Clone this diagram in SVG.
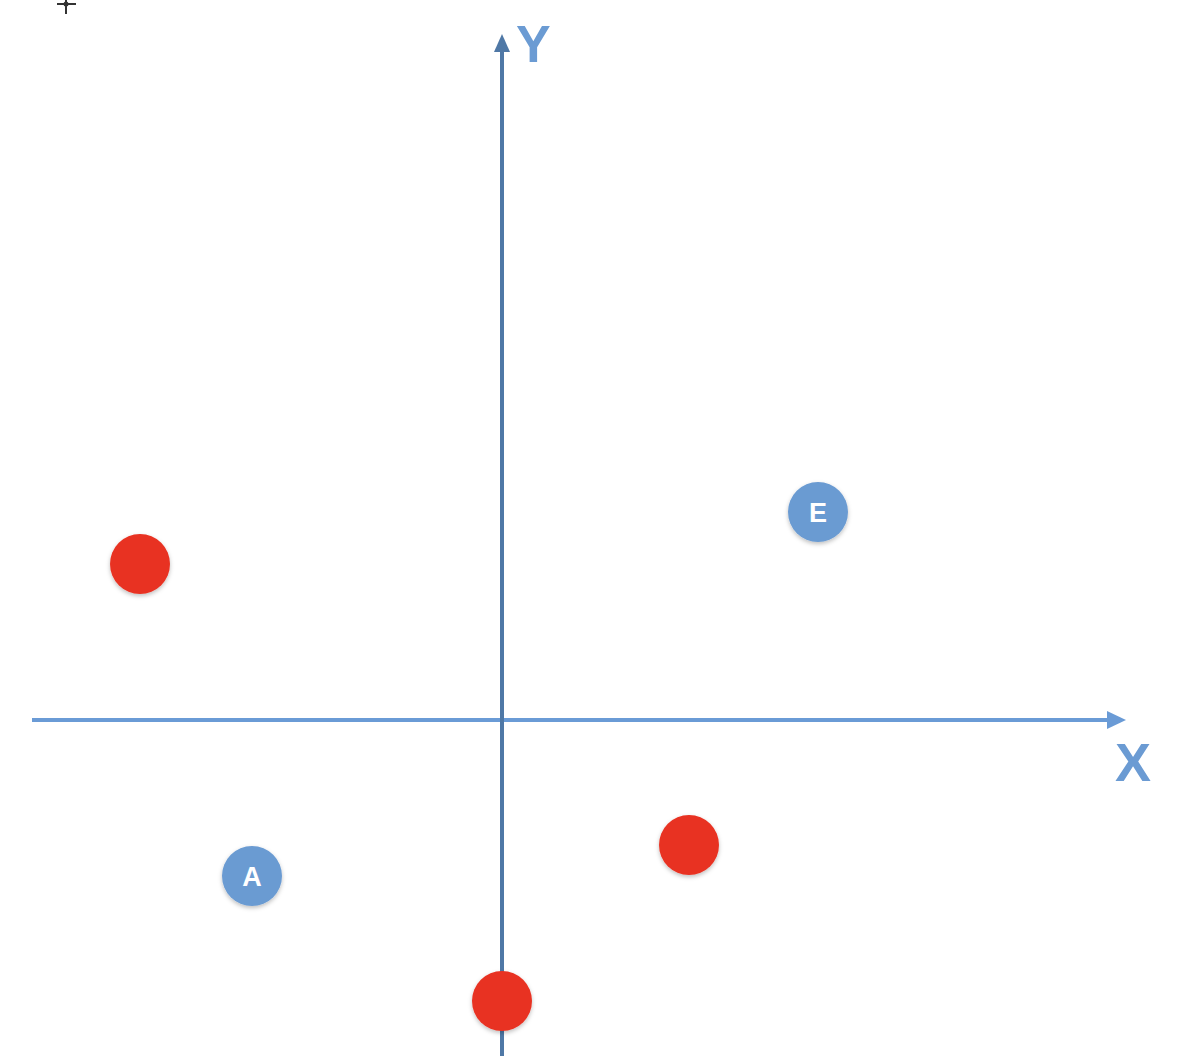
<svg xmlns="http://www.w3.org/2000/svg" width="1196" height="1056" viewBox="0 0 1196 1056">
<style>
.lbl{font-family:"Liberation Sans",Arial,sans-serif;font-weight:bold;fill:#6b9bd3}
.pt{font-family:"Liberation Sans",Arial,sans-serif;font-weight:bold;fill:#fff;font-size:27px;text-anchor:middle}
.blue{fill:#6b9bd2}
.red{fill:#e83323}
</style>
<defs>
<filter id="sh" x="-30%" y="-30%" width="160%" height="160%">
<feDropShadow dx="0" dy="2" stdDeviation="2" flood-color="#000" flood-opacity="0.25"/>
</filter>
</defs>
<rect width="1196" height="1056" fill="#fff"/>
<g id="cursor" stroke="#333" fill="none">
<line x1="57" y1="4" x2="76" y2="4" stroke-width="2"/>
<line x1="66" y1="0" x2="66" y2="14" stroke-width="2"/>
<circle cx="66" cy="4" r="2.5" fill="#333" stroke="none"/>
</g>
<g id="axes">
<line x1="32" y1="720" x2="1110" y2="720" stroke="#6a9bd6" stroke-width="4"/>
<polygon points="1126,720 1107,711 1107,729" fill="#6a9bd6"/>
<line x1="502" y1="1056" x2="502" y2="48" stroke="#4f78a6" stroke-width="4"/>
<polygon points="502,34 494,52 510,52" fill="#4f78a6"/>
<text class="lbl" x="516" y="62" font-size="52">Y</text>
<text class="lbl" x="1115" y="781" font-size="54">X</text>
</g>
<g id="p1"><circle class="red" cx="140" cy="564" r="30" filter="url(#sh)"/></g>
<g id="p2"><circle class="red" cx="689" cy="845" r="30" filter="url(#sh)"/></g>
<g id="p3"><circle class="red" cx="502" cy="1001" r="30" filter="url(#sh)"/></g>
<g id="A"><circle class="blue" cx="252" cy="876" r="30" filter="url(#sh)"/><text class="pt" x="252" y="886">A</text></g>
<g id="E"><circle class="blue" cx="818" cy="512" r="30" filter="url(#sh)"/><text class="pt" x="818" y="522">E</text></g>
</svg>
